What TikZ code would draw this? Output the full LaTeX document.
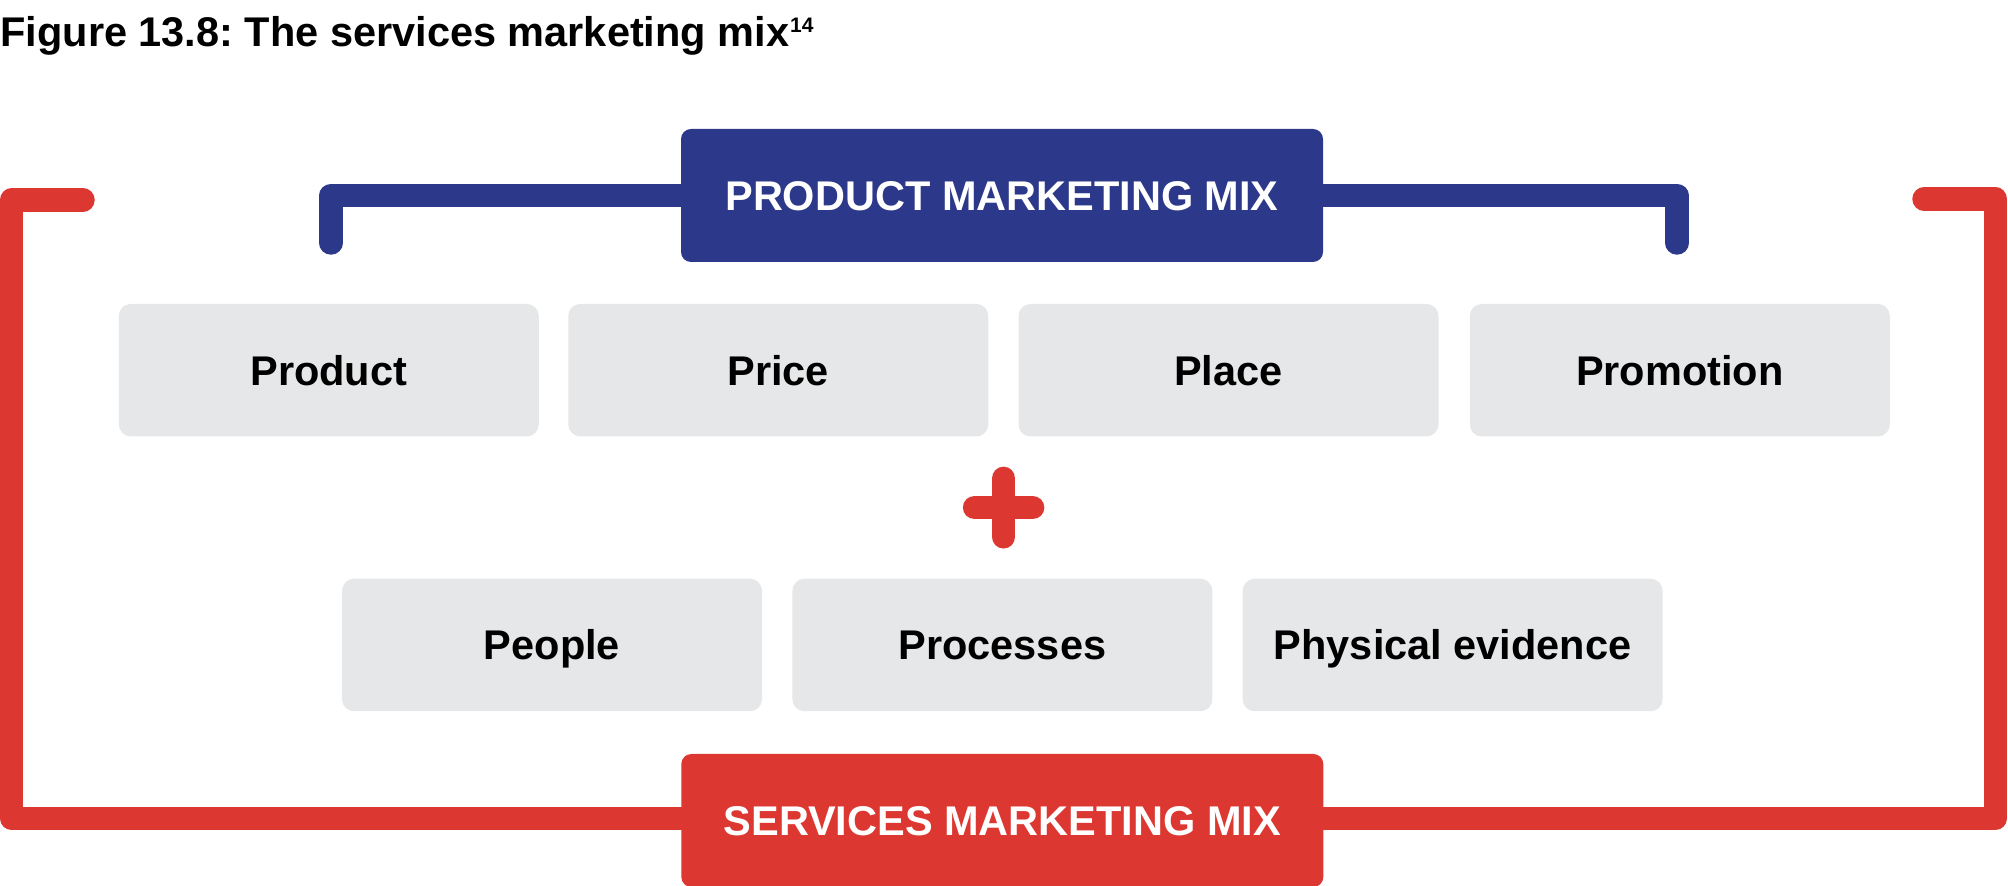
\documentclass[tikz,border=0pt]{standalone}
\usepackage{fontspec}
\setmainfont{Liberation Sans}
\usetikzlibrary{backgrounds}
\definecolor{mixblue}{HTML}{2C3889}
\definecolor{mixred}{HTML}{DC3831}
\definecolor{mixgray}{HTML}{E6E7E8}
\frenchspacing
\begin{document}
\begin{tikzpicture}[x=0.5pt,y=-0.5pt,
  lbl/.style={font=\fontsize{20.75pt}{24pt}\selectfont\bfseries, text height=14.86pt, text depth=0pt, inner sep=0pt},
  mixbox/.style={lbl, minimum width=321pt, minimum height=66.5pt, rounded corners=5pt, text=white},
  itembox/.style={lbl, fill=mixgray, minimum width=210pt, minimum height=66.25pt, rounded corners=6pt},
  bracket/.style={line width=11.75pt, line join=round, line cap=round}]
\useasboundingbox (0,0) rectangle (2008,886);
% title
\node[anchor=base west, inner sep=0pt, font=\fontsize{20.75pt}{24pt}\selectfont\bfseries] (title) at (0,46.5)
  {Figure 13.8: The services marketing mix\kern0.5pt\raisebox{7.2pt}{\fontsize{10.5pt}{10.5pt}\selectfont 14}};
% mix boxes
\node[mixbox, fill=mixblue] (pmm) at (1002,195.5) {PRODUCT MARKETING MIX};
\node[mixbox, fill=mixred] (smm) at (1002.3,820.5) {SERVICES MARKETING MIX};
% item boxes
\node[itembox] (product)   at (328.8,370.2)  {Product};
\node[itembox] (price)     at (778.3,370.2)  {Price};
\node[itembox] (place)     at (1228.5,370.2) {Place};
\node[itembox] (promotion) at (1679.8,370.2) {Promotion};
\node[itembox] (people)    at (552,645)      {People};
\node[itembox] (processes) at (1002.4,645)   {Processes};
\node[itembox] (physical)  at (1452.6,645)   {Physical evidence};
% bracket end points
\coordinate (bl) at (331,243);
\coordinate (br) at (1677,243);
\coordinate (rtl) at (83,200);
\coordinate (rbl) at (11.7,818.3);
\coordinate (rtr) at (1924,199);
\coordinate (rbr) at (1995.4,818.3);
\coordinate (plus) at (1003.6,507.6);
\begin{scope}[on background layer]
  \draw[bracket, mixblue] (pmm.west) -| (bl);
  \draw[bracket, mixblue] (pmm.east) -| (br);
  \draw[bracket, mixred] (rtl) -| (rbl) -- (rbl -| smm.west);
  \draw[bracket, mixred] (rtr) -| (rbr) -- (rbr -| smm.east);
\end{scope}
% plus sign
\draw[bracket, mixred] (plus) ++(0,-29.2) -- ++(0,58.4);
\draw[bracket, mixred] (plus) ++(-29,0) -- ++(58,0);
\end{tikzpicture}
\end{document}
